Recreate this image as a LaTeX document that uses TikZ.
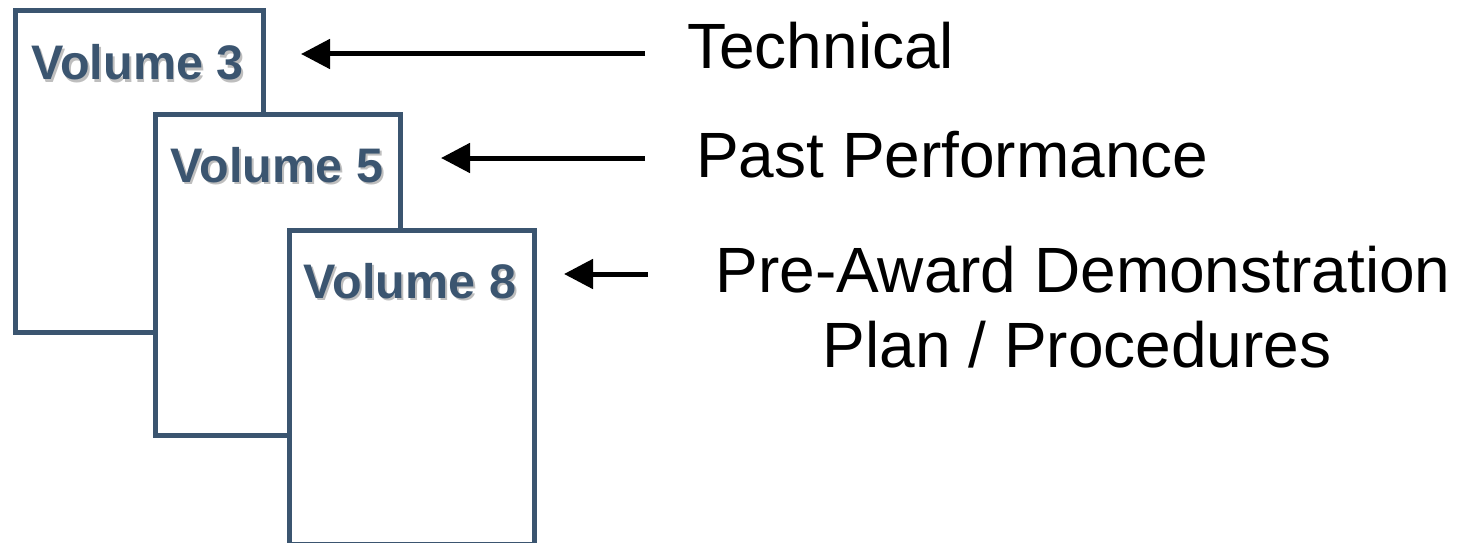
\documentclass[tikz,border=0pt]{standalone}
\usepackage{fontspec}
\setmainfont{Liberation Sans}
\usetikzlibrary{arrows.meta}
\definecolor{slate}{RGB}{59,85,112}
\definecolor{shade}{RGB}{190,190,190}

\begin{document}
\begin{tikzpicture}[x=1pt,y=-1pt,
  volbox/.style={draw=slate, line width=5pt, fill=white, rectangle, inner sep=0pt},
  volshadow/.style={text=shade, anchor=base, inner sep=0pt, font=\fontsize{48.5}{58}\selectfont\bfseries},
  voltext/.style={text=slate, anchor=base, inner sep=0pt, font=\fontsize{48.5}{58}\selectfont\bfseries},
  txt/.style={inner sep=0pt, font=\fontsize{64}{76}\selectfont},
  arr/.style={line width=5pt, -{Triangle[length=29pt,width=29pt]}}]
\useasboundingbox (0,0) rectangle (1461,543);
% stack of volumes
\node [volbox, minimum width=248pt, minimum height=321pt] (box3) at (139,171.5) {};
\node [volshadow] (vol3s) at (139.5,82) {Volume 3};
\node [voltext] (vol3) at (137.5,80) {Volume 3};
\node [volbox, minimum width=245pt, minimum height=321pt] (box5) at (277.5,274.5) {};
\node [volshadow] (vol5s) at (279,184) {Volume 5};
\node [voltext] (vol5) at (277,182) {Volume 5};
\node [volbox, minimum width=245pt, minimum height=314pt] (box8) at (411.5,387) {};
\node [volshadow] (vol8s) at (412,300) {Volume 8};
\node [voltext] (vol8) at (410,298) {Volume 8};
% descriptions
\node [txt, anchor=base west] (tech) at (687,69) {Technical};
\node [txt, anchor=base west] (past) at (696,177) {Past Performance};
\node [txt, anchor=base] (pre) at (1083,292) {Pre-Award Demonstration};
\node [txt, anchor=base] (plan) at (1077,367) {Plan / Procedures};
% arrows
\coordinate (from3) at (645,54);
\coordinate (to3) at (301,54);
\coordinate (from5) at (645,158);
\coordinate (to5) at (441,158);
\coordinate (from8) at (648,274);
\coordinate (to8) at (564,274);
\draw [arr] (from3) -- (to3);
\draw [arr] (from5) -- (to5);
\draw [arr] (from8) -- (to8);
\end{tikzpicture}
\end{document}
